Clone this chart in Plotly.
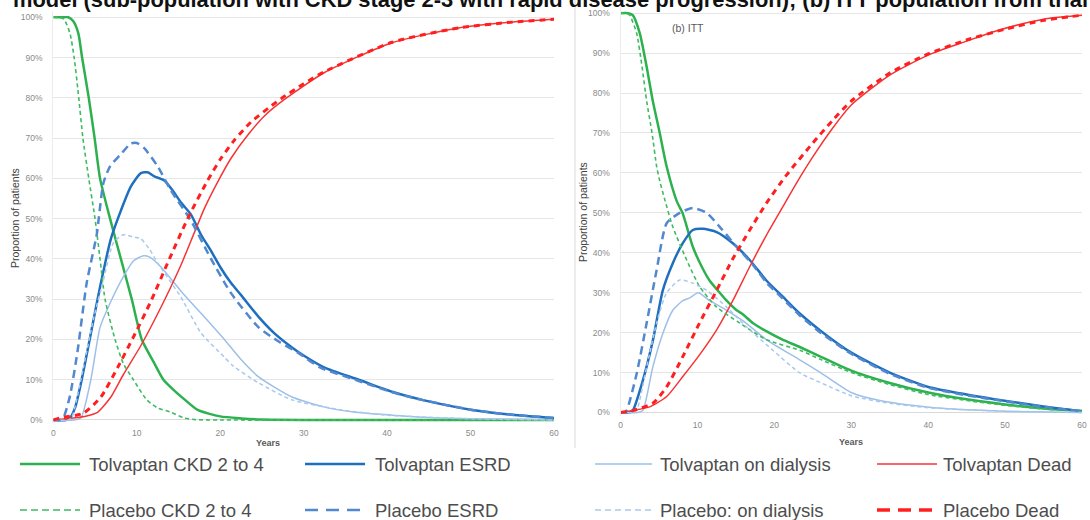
import plotly.graph_objects as go

W, H = 1090, 520

# ---------------- DATA ----------------
years_ticks = [0, 10, 20, 30, 40, 50, 60]
pct_ticks = [0, 10, 20, 30, 40, 50, 60, 70, 80, 90, 100]
pct_labels = ["0%", "10%", "20%", "30%", "40%", "50%", "60%", "70%", "80%", "90%", "100%"]

# (a) left panel
a_tolv_ckd_x = [0, 1, 1.8, 2.4, 3.0, 3.45, 4.25, 4.95, 5.6, 6.8, 8.1, 9.4, 10.6, 12.0, 13.2, 14.5, 15.5, 17.3, 20, 22.5, 25, 30, 40, 50, 60]
a_tolv_ckd_y = [100, 100, 100, 99, 96, 90, 80, 70, 60, 50, 40, 30, 20, 14.5, 10, 7.3, 5.5, 2.5, 0.9, 0.4, 0.1, 0, 0, 0, 0]
a_plac_ckd_x = [0, 0.8, 1.3, 2.0, 2.5, 3.0, 3.55, 4.25, 5.0, 5.6, 6.2, 7.4, 8.4, 9.6, 11.2, 12.5, 14, 15.7, 17, 20, 60]
a_plac_ckd_y = [100, 100, 99.5, 96, 90, 81, 70, 60, 50, 40, 30, 20, 14, 10, 5, 3, 2, 0.5, 0.1, 0, 0]
a_tolv_esrd_x = [0, 1.5, 2.0, 2.6, 3.3, 4.5, 5.7, 6.9, 8.1, 9.3, 10.5, 11.3, 12.1, 13.3, 14.3, 15.3, 16.5, 17.7, 18.9, 20, 21.3, 22.5, 24.6, 26.5, 28.6, 30, 32.5, 36.6, 40.6, 44.2, 50.2, 55, 60]
a_tolv_esrd_y = [0, 0, 0.5, 3, 9, 21.5, 34, 45, 52, 58, 61.3, 61.5, 60.5, 59.5, 57, 54, 51, 46, 42, 38, 34, 31, 25.6, 21.5, 18, 16, 13, 10, 7, 5, 2.5, 1.3, 0.5]
a_plac_esrd_x = [0, 0.8, 1.2, 2.0, 2.9, 4.0, 5.2, 6.0, 6.8, 8.1, 9.3, 10.0, 10.9, 12.5, 14.1, 16.5, 18.9, 21.3, 24.6, 27, 29.4, 32, 36.6, 40.6, 44.2, 50.2, 55, 60]
a_plac_esrd_y = [0, 0, 0.5, 6, 17, 34, 46, 58.8, 63, 66, 68.7, 68.8, 67.5, 63, 57, 49.5, 40, 31.5, 23, 19.5, 16.6, 13, 9.7, 6.9, 5, 2.5, 1.3, 0.5]
a_tolv_dial_x = [0, 2.5, 3.3, 4.5, 5.6, 6.8, 8.4, 9.6, 10.8, 11.5, 12.9, 15.3, 17.7, 20.5, 22.5, 24.6, 28.6, 32.5, 36, 40.6, 45, 50, 60]
a_tolv_dial_y = [0, 0, 0.5, 10, 23, 29, 35.6, 39.5, 40.8, 40.5, 38, 32, 26.5, 20, 15, 10.7, 5.7, 3.2, 2, 1.2, 0.6, 0.3, 0]
a_plac_dial_x = [0, 1.8, 2.2, 3.6, 4.8, 6.0, 7.2, 8.4, 9.5, 10.5, 11.5, 12.5, 15.3, 17.7, 20.5, 21.5, 24.6, 28.6, 34.6, 40, 50, 60]
a_plac_dial_y = [0, 0, 0.5, 13, 25, 34.7, 44, 46, 45.5, 45, 42.5, 39, 30.5, 21.6, 15.6, 13.5, 9.2, 5, 2.5, 1.2, 0.3, 0]
a_tolv_dead_x = [0, 2.4, 4, 5.3, 6.9, 8.4, 10.5, 12.9, 15.3, 16.5, 18.1, 19.8, 21.3, 23.4, 25.3, 27.7, 32.5, 40.6, 48.7, 55, 60]
a_tolv_dead_y = [0, 0.5, 1, 1.9, 5.7, 11.3, 18.5, 28, 38.5, 44.5, 52.5, 59.5, 65, 71, 75.5, 79.6, 86.3, 93.7, 97.4, 98.8, 99.5]
a_plac_dead_x = [0, 0.8, 3.6, 5.7, 7.7, 9.6, 11.7, 13.7, 16.1, 18.5, 20.1, 21.7, 23.7, 25.8, 27.3, 30, 32.5, 40.6, 48.7, 55, 60]
a_plac_dead_y = [0, 0.5, 1.7, 5.7, 13, 20.6, 29.5, 39, 50, 59.5, 65, 69.5, 74, 77.5, 79.8, 83.5, 86.5, 93.8, 97.4, 98.8, 99.5]

# (b) right panel, ITT
b_tolv_ckd_x = [0, 1.0, 1.6, 2.5, 3.4, 4.2, 5.1, 6.0, 7.3, 8.1, 9.4, 10.7, 11.6, 12.9, 13.8, 15.1, 15.9, 17.2, 19.0, 21, 23.3, 26, 30, 35, 40, 45, 50, 55, 60]
b_tolv_ckd_y = [100, 100, 99.5, 95, 86.6, 78, 70, 61.6, 53, 49.8, 41.5, 36, 33, 30, 28, 25.6, 24.6, 22.4, 20.3, 18.3, 16.4, 14, 10.5, 7.4, 5, 3.3, 2, 1, 0.4]
b_plac_ckd_x = [0, 0.8, 1.2, 2.1, 2.8, 3.4, 4.1, 4.7, 5.1, 5.8, 6.8, 8.6, 10.3, 12.5, 15.5, 19, 23.3, 26, 30, 35, 40, 45, 50, 55, 60]
b_plac_ckd_y = [100, 100, 99.5, 95, 86.6, 78, 70, 61.6, 58, 53, 46.5, 38.2, 31.5, 26.4, 22.4, 18.2, 15.6, 13.3, 10, 7, 4.5, 3, 1.8, 0.9, 0.3]
b_tolv_esrd_x = [0, 1.2, 1.6, 2.9, 4.2, 5.5, 6.8, 8.1, 9.4, 10.7, 12.5, 14.6, 16.8, 19.0, 21.1, 23.3, 26, 30, 35, 40, 45, 48.4, 55, 60]
b_tolv_esrd_y = [0, 0, 0.5, 8, 18, 30.6, 37.4, 42.4, 45.7, 46, 45.2, 42.4, 38.2, 33, 29, 24.8, 20.5, 15, 10, 6.4, 4.5, 3.4, 1.5, 0.3]
b_plac_esrd_x = [0, 0.5, 0.8, 2.1, 3.4, 4.7, 6.0, 7.7, 9.4, 11.2, 12.9, 15.1, 17.2, 19, 21.1, 23.3, 26, 30, 35, 40, 45, 50, 55, 60]
b_plac_esrd_y = [0, 0, 0.5, 9.7, 22.4, 35.7, 47.4, 50, 51.2, 50, 46.5, 41.5, 37, 32.5, 28.5, 24.3, 20, 14.7, 9.7, 6.2, 4.3, 2.8, 1.4, 0.3]
b_tolv_dial_x = [0, 2.2, 2.9, 4.2, 5.5, 6.8, 8.1, 9.0, 10.1, 11.6, 13.8, 15.9, 19, 23.3, 26, 30, 33.7, 39.8, 45, 50, 60]
b_tolv_dial_y = [0, 0, 0.5, 11.4, 19.8, 25.6, 28, 28.7, 30, 28, 25.6, 23, 18.2, 13.2, 10, 5, 3, 1.4, 0.7, 0.3, 0]
b_plac_dial_x = [0, 1.6, 2.1, 3.4, 4.7, 6.0, 7.7, 9.4, 11.2, 13.8, 16.4, 19.8, 23.3, 26, 30, 35, 40, 50, 60]
b_plac_dial_y = [0, 0, 0.5, 11.4, 22.4, 30, 33.2, 32.4, 30.6, 26.4, 21.4, 15.6, 9.9, 7.5, 4.2, 2.3, 1.2, 0.3, 0]
b_tolv_dead_x = [0, 1.6, 3.8, 6.0, 8.1, 10.3, 12.5, 14.6, 16.8, 19, 21.1, 22.9, 25, 27.5, 30, 35, 40, 45, 48.4, 52.8, 56, 60]
b_tolv_dead_y = [0, 0.5, 1.4, 4, 9, 14.5, 20.7, 28, 36.5, 44.5, 51.5, 57.5, 64, 71, 77, 84.5, 89.5, 93, 95.3, 97.6, 98.8, 99.5]
b_plac_dead_x = [0, 1.6, 4.2, 6.0, 8.1, 10.3, 12.5, 14.6, 16.8, 19, 21.6, 25, 27.5, 30, 35, 40, 45, 50, 55, 60]
b_plac_dead_y = [0, 0.5, 2.3, 6.4, 14, 22.5, 30.6, 38.5, 45.7, 52.5, 59.5, 67.5, 73, 78, 85, 89.8, 93.3, 96, 98.2, 99.5]

series_names = ["Tolvaptan CKD 2 to 4", "Tolvaptan ESRD", "Tolvaptan on dialysis", "Tolvaptan Dead",
                "Placebo CKD 2 to 4", "Placebo ESRD", "Placebo: on dialysis", "Placebo Dead"]

title_text = "model (sub-population with CKD stage 2-3 with rapid disease progression); (b) ITT population from trial"

# ---------------- STYLES ----------------
styles = {
    "Tolvaptan CKD 2 to 4": dict(color="#2db14e", width=2.5, dash="solid"),
    "Tolvaptan ESRD": dict(color="#1f6fbf", width=2.5, dash="solid"),
    "Tolvaptan on dialysis": dict(color="#9dc0e8", width=1.5, dash="solid"),
    "Tolvaptan Dead": dict(color="#f53535", width=1.5, dash="solid"),
    "Placebo CKD 2 to 4": dict(color="#3dbb5f", width=1.6, dash="4px,3px"),
    "Placebo ESRD": dict(color="#5288cf", width=2.5, dash="8px,5px"),
    "Placebo: on dialysis": dict(color="#a9c9ec", width=1.5, dash="4px,3px"),
    "Placebo Dead": dict(color="#ff1f1f", width=3, dash="6px,5px"),
}
legend_dash = {
    "Placebo CKD 2 to 4": "7px,4px",
    "Placebo ESRD": "13px,8px",
    "Placebo: on dialysis": "6px,4px",
    "Placebo Dead": "13px,8px",
}

panel_a = {
    "Tolvaptan CKD 2 to 4": (a_tolv_ckd_x, a_tolv_ckd_y),
    "Tolvaptan ESRD": (a_tolv_esrd_x, a_tolv_esrd_y),
    "Tolvaptan on dialysis": (a_tolv_dial_x, a_tolv_dial_y),
    "Tolvaptan Dead": (a_tolv_dead_x, a_tolv_dead_y),
    "Placebo CKD 2 to 4": (a_plac_ckd_x, a_plac_ckd_y),
    "Placebo ESRD": (a_plac_esrd_x, a_plac_esrd_y),
    "Placebo: on dialysis": (a_plac_dial_x, a_plac_dial_y),
    "Placebo Dead": (a_plac_dead_x, a_plac_dead_y),
}
panel_b = {
    "Tolvaptan CKD 2 to 4": (b_tolv_ckd_x, b_tolv_ckd_y),
    "Tolvaptan ESRD": (b_tolv_esrd_x, b_tolv_esrd_y),
    "Tolvaptan on dialysis": (b_tolv_dial_x, b_tolv_dial_y),
    "Tolvaptan Dead": (b_tolv_dead_x, b_tolv_dead_y),
    "Placebo CKD 2 to 4": (b_plac_ckd_x, b_plac_ckd_y),
    "Placebo ESRD": (b_plac_esrd_x, b_plac_esrd_y),
    "Placebo: on dialysis": (b_plac_dial_x, b_plac_dial_y),
    "Placebo Dead": (b_plac_dead_x, b_plac_dead_y),
}

fig = go.Figure()
for panel, (xa, ya) in ((panel_a, ("x", "y")), (panel_b, ("x2", "y2"))):
    for name in series_names:
        xs, ys = panel[name]
        st = styles[name]
        fig.add_trace(go.Scatter(
            x=xs, y=ys, mode="lines", name=name, showlegend=False,
            xaxis=xa, yaxis=ya, hoverinfo="skip",
            line=dict(color=st["color"], width=st["width"], dash=st["dash"],
                      shape="spline", smoothing=0.6),
        ))

# ---------------- LAYOUT ----------------
def px_x(p):
    return p / W

def px_y(p):
    return 1 - p / H

# left: 0 -> x 53.3, 60 -> x 554 ; 0% -> y 420, 100% -> y 17.3
a_ppp = (420 - 17.3) / 100.0
a_rng = [-0.8, 101.5]
a_dom_y = [px_y(420 - a_rng[0] * a_ppp), px_y(420 - a_rng[1] * a_ppp)]
# right: 0 -> x 620.5, 60 -> x 1082 ; 0% -> y 412.5, 100% -> y 13.2
b_ppp = (412.5 - 13.2) / 100.0
b_rng = [-0.8, 103]
b_dom_y = [px_y(412.5 - b_rng[0] * b_ppp), px_y(412.5 - b_rng[1] * b_ppp)]

tick_font = dict(family="Liberation Sans", size=8.5, color="#8a8a8a")
xcommon = dict(range=[0, 60], tickvals=years_ticks, showgrid=False, zeroline=False,
               showline=False, ticks="", tickfont=tick_font, ticklabelstandoff=3,
               automargin=False, fixedrange=True)
ycommon = dict(tickvals=pct_ticks, ticktext=pct_labels, showgrid=True, gridcolor="#e6e6e6",
               gridwidth=1, zeroline=True, zerolinecolor="#d9d9d9", zerolinewidth=1,
               showline=True, linecolor="#ececec", linewidth=1, ticks="",
               tickfont=tick_font, ticklabelstandoff=8, automargin=False, fixedrange=True)

fig.update_layout(
    width=W, height=H, margin=dict(l=0, r=0, t=0, b=0, autoexpand=False),
    paper_bgcolor="white", plot_bgcolor="white", showlegend=False,
    xaxis=dict(domain=[px_x(53.3), px_x(554)], anchor="y", **xcommon),
    yaxis=dict(domain=a_dom_y, range=a_rng, anchor="x", **ycommon),
    xaxis2=dict(domain=[px_x(620.5), px_x(1082)], anchor="y2", **xcommon),
    yaxis2=dict(domain=b_dom_y, range=b_rng, anchor="x2", **ycommon),
)

shapes = []
annotations = []

# panel frame divider
shapes.append(dict(type="line", xref="paper", yref="paper", x0=px_x(575), x1=px_x(575),
                   y0=px_y(0), y1=px_y(448), line=dict(color="#d9d9d9", width=1)))

# title (cut at top, as in the source image)
annotations.append(dict(text="<b>" + title_text + "</b>", xref="paper", yref="paper",
                        x=px_x(12), y=px_y(13.5), xanchor="left", yanchor="bottom",
                        showarrow=False, borderpad=0,
                        font=dict(family="Liberation Sans", size=21.9, color="#111111")))

# axis titles
ax_title_font = dict(family="Liberation Sans", size=10.5, color="#404040")
annotations.append(dict(text="Proportion of patients", xref="paper", yref="paper",
                        x=px_x(15), y=px_y(218), textangle=-90, showarrow=False,
                        xanchor="center", yanchor="middle", font=ax_title_font))
annotations.append(dict(text="Proportion of patients", xref="paper", yref="paper",
                        x=px_x(583), y=px_y(212), textangle=-90, showarrow=False,
                        xanchor="center", yanchor="middle", font=ax_title_font))
years_font = dict(family="Liberation Sans", size=9, color="#595959")
annotations.append(dict(text="<b>Years</b>", xref="paper", yref="paper", x=px_x(268), y=px_y(443),
                        showarrow=False, xanchor="center", yanchor="middle", font=years_font))
annotations.append(dict(text="<b>Years</b>", xref="paper", yref="paper", x=px_x(851), y=px_y(442),
                        showarrow=False, xanchor="center", yanchor="middle", font=years_font))
annotations.append(dict(text="(b) ITT", xref="paper", yref="paper", x=px_x(688), y=px_y(28),
                        showarrow=False, xanchor="center", yanchor="middle",
                        font=dict(family="Liberation Sans", size=10.5, color="#595959")))

# manual legend (4 columns x 2 rows)
legend_cols = [(20, 80, 87), (305, 365, 373), (595, 652, 658), (877, 937, 941)]
legend_rows = [463, 509]
for i, name in enumerate(series_names):
    row = i // 4
    col = i % 4
    x0, x1, tx = legend_cols[col]
    yy = legend_rows[row]
    st = styles[name]
    lw = st["width"] + (0.5 if name == "Placebo Dead" else 0)
    shapes.append(dict(type="line", xref="paper", yref="paper", x0=px_x(x0), x1=px_x(x1),
                       y0=px_y(yy + 1), y1=px_y(yy + 1),
                       line=dict(color=st["color"], width=lw,
                                 dash=legend_dash.get(name, "solid"))))
    annotations.append(dict(text=name, xref="paper", yref="paper", x=px_x(tx), y=px_y(yy + 1),
                            showarrow=False, xanchor="left", yanchor="middle",
                            font=dict(family="Liberation Sans", size=18.5, color="#4d4d4d")))

fig.update_layout(shapes=shapes, annotations=annotations)
fig.write_html("out.html", config={"displayModeBar": False},
               post_script="document.body.style.margin='0';document.body.style.overflow='hidden';")
